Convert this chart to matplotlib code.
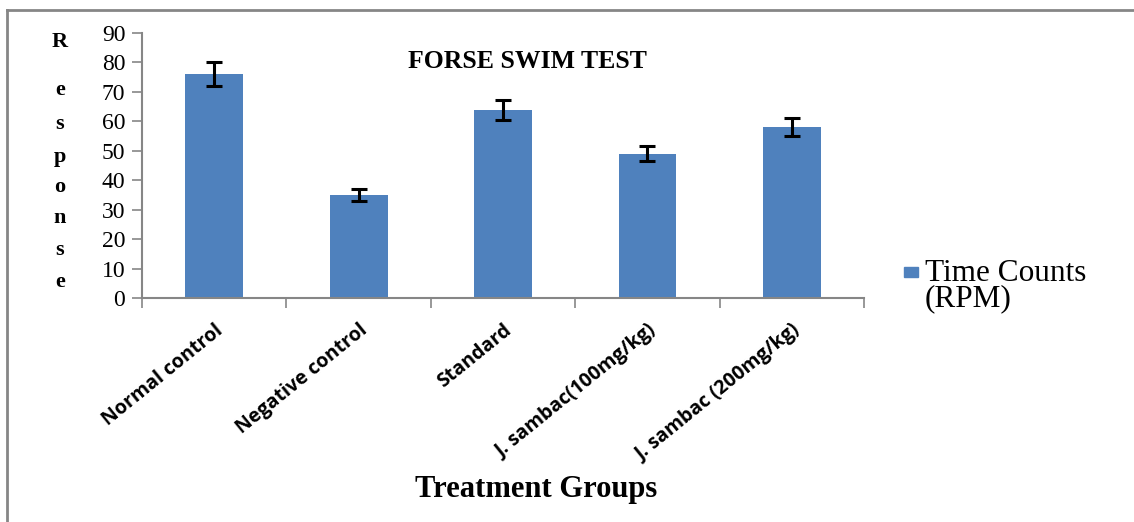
import numpy as np
import matplotlib
matplotlib.use("Agg")
import matplotlib.pyplot as plt
from matplotlib.lines import Line2D

# donnees
groupes = ["Normal control", "Negative control", "Standard",
           "J. sambac(100mg/kg)", "J. sambac (200mg/kg)"]
valeurs = [76, 35, 64, 49, 58]
erreurs = [4, 1.9, 3.4, 2.5, 3.1]
yticks = [0, 10, 20, 30, 40, 50, 60, 70, 80, 90]

bleu = "#4F81BD"
gris = "#868686"
serif = ["Liberation Serif", "DejaVu Serif"]

fig = plt.figure(figsize=(11.34, 5.22), dpi=100)
ax = fig.add_axes([0.1252, 0.4291, 0.762 - 0.1252, 0.9368 - 0.4291])

x = np.arange(len(groupes))
ax.bar(x, valeurs, width=0.4, color=bleu, zorder=2)
ax.errorbar(x, valeurs, yerr=erreurs, fmt="none", ecolor="black",
            elinewidth=2.2, capsize=5.5, capthick=2.2, zorder=3)

ax.set_xlim(-0.5, len(groupes) - 0.5)
ax.set_ylim(0, 90)
ax.set_yticks(yticks)
ax.set_yticklabels([str(t) for t in yticks], fontfamily=serif, fontsize=17)
ax.tick_params(axis="y", length=7, width=1.2, color=gris, pad=5)

ax.set_xticks(x)
ax.set_xticklabels(groupes, rotation=39, ha="right", rotation_mode="anchor",
                   fontfamily=["Open Sans", "DejaVu Sans"], fontweight="bold", fontsize=14)
ax.tick_params(axis="x", which="major", length=0, pad=16)
ax.set_xticks(np.arange(-0.5, len(groupes)), minor=True)
ax.tick_params(axis="x", which="minor", length=7, width=1.2, color=gris)

for s in ["top", "right"]:
    ax.spines[s].set_visible(False)
for s in ["left", "bottom"]:
    ax.spines[s].set_color(gris)
    ax.spines[s].set_linewidth(1.5)

# titre
fig.text(527 / 1134, 1 - 62 / 522, "FORSE SWIM TEST", ha="center", va="center",
         fontfamily=serif, fontweight="bold", fontsize=18.5)

# label vertical lettre par lettre
lettres = "Response"
ys = [42, 90, 124, 157, 187, 218, 250, 282]
for l, yy in zip(lettres, ys):
    fig.text(60 / 1134, 1 - yy / 522, l, ha="center", va="center",
             fontfamily=serif, fontweight="bold", fontsize=16)

fig.text(536 / 1134, 1 - 489 / 522, "Treatment Groups", ha="center", va="center",
         fontfamily=serif, fontweight="bold", fontsize=22, fontstretch="condensed")

# legende
fig.patches.append(plt.Rectangle((904 / 1134, 1 - 277 / 522), 14 / 1134, 10 / 522,
                                 transform=fig.transFigure, color=bleu))
fig.text(925 / 1134, 1 - 286 / 522, "Time Counts\n(RPM)", ha="left", va="center",
         fontfamily=serif, fontsize=22.5, linespacing=0.85)

# cadre
fig.lines.append(Line2D([7 / 1134, 1], [1 - 10 / 522, 1 - 10 / 522],
                        transform=fig.transFigure, color=gris, lw=2))
fig.lines.append(Line2D([7 / 1134, 7 / 1134], [0, 1 - 10 / 522],
                        transform=fig.transFigure, color=gris, lw=2))

fig.savefig("out.png", dpi=100)
